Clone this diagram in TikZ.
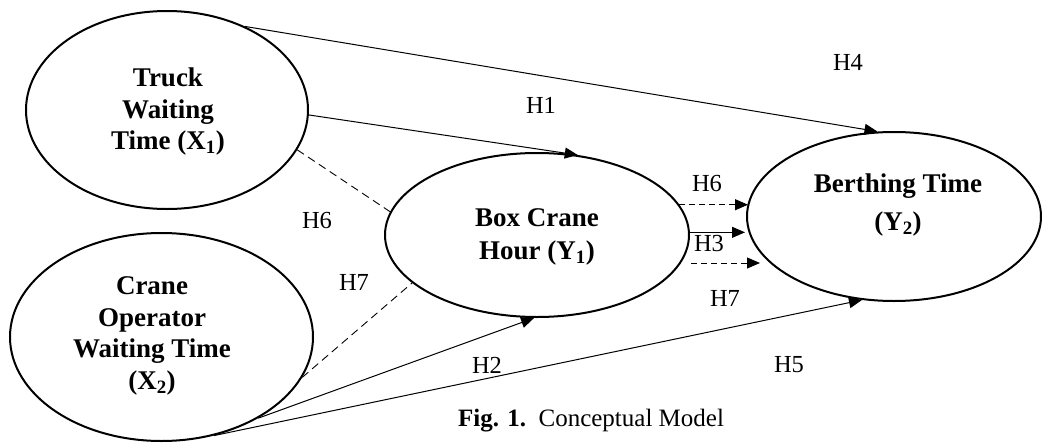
\documentclass[tikz,border=0pt]{standalone}
\usepackage{fontspec}
\setmainfont{Liberation Serif}
\usetikzlibrary{shapes.geometric,arrows.meta,calc}

\begin{document}
\begin{tikzpicture}[x=1pt,y=-1pt,
  latent/.style={draw, ellipse, line width=2pt, inner sep=0pt},
  ttl/.style={font=\bfseries\fontsize{27}{31.5}\selectfont, align=center, inner sep=0pt},
  hyp/.style={font=\fontsize{24.5}{28}\selectfont, inner sep=0pt},
  conn/.style={line width=1pt, -{Triangle[length=13pt,width=11pt]}},
  dlink/.style={line width=1pt, dash pattern=on 6pt off 4pt, -{Triangle[length=13pt,width=11pt]}},
  dline/.style={line width=0.9pt, dash pattern=on 8pt off 5pt}]
\useasboundingbox (0,0) rectangle (1042,442);

% constructs
\node[latent, minimum width=282pt, minimum height=198pt] (truck) at (167,110) {};
\node[latent, minimum width=303pt, minimum height=208pt] (crane) at (161.5,337) {};
\node[latent, minimum width=304pt, minimum height=164pt] (box)   at (537,235) {};
\node[latent, minimum width=294pt, minimum height=169pt] (berth) at (894,216.5) {};

% construct names
\node[ttl] (truckT) at (168,112) {Truck\\Waiting\\Time (X\textsubscript{1})};
\node[ttl] (craneT) at (152,336) {Crane\\Operator\\Waiting Time\\(X\textsubscript{2})};
\node[ttl, font=\bfseries\fontsize{27}{33}\selectfont] (boxT) at (537,237) {Box Crane\\Hour (Y\textsubscript{1})};
\node[ttl, font=\bfseries\fontsize{27}{38}\selectfont] (berthT) at (898,205) {Berthing Time\\(Y\textsubscript{2})};

% direct effects
\draw[conn] (truck.47) -- (berth.101);
\draw[conn] (truck.-2) -- (box.63);
\draw[conn] (crane.-40) -- (box.-92);
\draw[conn] (crane.-62) -- (berth.-111);

% mediation links
\draw[dline] (truck.-17) -- (box.171);
\draw[dline] (crane.-16) -- (box.-159);

% links from the mediator to the outcome
\coordinate (t6) at (748,205);
\coordinate (t3) at (745,232);
\coordinate (t7) at (760,263);
\draw[dlink] (box.12) -- (t6 |- box.12);
\draw[conn] (box.1) -- (t3 |- box.1);
\draw[dlink] ([xshift=10pt]box.-11) -- (t7 |- box.-11);

% hypothesis labels
\node[hyp] (h4) at (848,62) {H4};
\node[hyp] (h1) at (541,105) {H1};
\node[hyp] (h6a) at (317,221) {H6};
\node[hyp] (h7a) at (354,282) {H7};
\node[hyp] (h6b) at (707,184) {H6};
\node[hyp] (h3) at (709,244) {H3};
\node[hyp] (h7b) at (725,298) {H7};
\node[hyp] (h2) at (487,365) {H2};
\node[hyp] (h5) at (789,365) {H5};

% caption
\node[font=\fontsize{25}{30}\selectfont, inner sep=0pt] (cap) at (591,421)
  {\textbf{Fig. 1.}\ \ Conceptual Model};
\end{tikzpicture}
\end{document}
